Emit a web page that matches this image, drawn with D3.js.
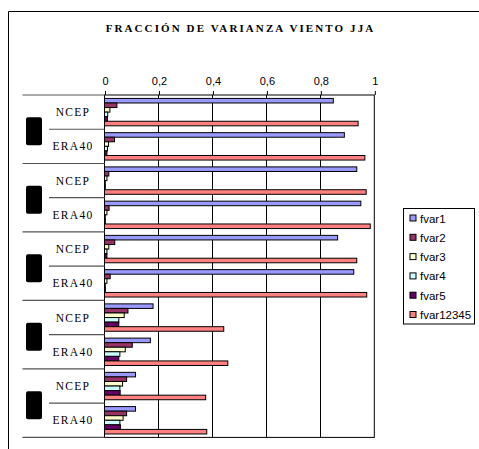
<!DOCTYPE html>
<html>
<head>
<meta charset="utf-8">
<script src="https://cdn.jsdelivr.net/npm/d3@7"></script>
<style>
  html, body { margin: 0; padding: 0; background: #fff; }
  svg { display: block; }
</style>
</head>
<body>
<div id="chart"></div>
<script>
// Fraction of wind variance (JJA) per reanalysis, five groups of NCEP / ERA40 rows
const categories = ["NCEP", "ERA40", "NCEP", "ERA40", "NCEP", "ERA40", "NCEP", "ERA40", "NCEP", "ERA40"];
const seriesNames = ["fvar1", "fvar2", "fvar3", "fvar4", "fvar5", "fvar12345"];
const seriesColors = ["#9999FF", "#993366", "#FFFFCC", "#CCFFFF", "#660066", "#FF8080"];

const fvar1     = [0.848, 0.889, 0.935, 0.950, 0.864, 0.924, 0.180, 0.170, 0.115, 0.115];
const fvar2     = [0.046, 0.037, 0.016, 0.017, 0.038, 0.021, 0.087, 0.103, 0.082, 0.082];
const fvar3     = [0.020, 0.015, 0.009, 0.009, 0.016, 0.009, 0.073, 0.077, 0.067, 0.069];
const fvar4     = [0.012, 0.011, 0.003, 0.003, 0.009, 0.003, 0.053, 0.057, 0.057, 0.057];
const fvar5     = [0.011, 0.009, 0.003, 0.003, 0.009, 0.003, 0.053, 0.053, 0.058, 0.059];
const fvar12345 = [0.940, 0.965, 0.970, 0.985, 0.935, 0.972, 0.442, 0.457, 0.375, 0.379];

const xTicks = [0, 0.2, 0.4, 0.6, 0.8, 1];
const tickLabels = ["0", "0,2", "0,4", "0,6", "0,8", "1"];
const title = "FRACCIÓN DE VARIANZA VIENTO JJA";

const seriesValues = [fvar1, fvar2, fvar3, fvar4, fvar5, fvar12345];

const W = 479, H = 449;
const plot = { left: 104.5, right: 374.3, top: 95, bottom: 437.4 };

const svg = d3.select("#chart").append("svg")
  .attr("width", W).attr("height", H);

svg.append("rect").attr("width", W).attr("height", H).attr("fill", "#fff");

// chart frame
svg.append("path")
  .attr("d", `M8.5,${H + 2} V11.5 H${W + 2}`)
  .attr("fill", "none").attr("stroke", "#000").attr("stroke-width", 1);

// title
svg.append("text")
  .attr("x", 240.5).attr("y", 32)
  .attr("text-anchor", "middle")
  .attr("font-family", "'Liberation Serif', 'Times New Roman', serif")
  .attr("font-weight", "bold")
  .attr("font-size", 11)
  .attr("letter-spacing", 2.1)
  .text(title);

const x = d3.scaleLinear().domain([0, 1]).range([plot.left, plot.right]);
const y = d3.scaleBand()
  .domain(d3.range(categories.length))
  .range([plot.top, plot.bottom])
  .paddingInner(0.2).paddingOuter(0.1);
const ys = d3.scaleBand().domain(seriesNames).range([0, y.bandwidth()]);
const step = y.step();

// plot area background
svg.append("rect")
  .attr("x", plot.left).attr("y", plot.top)
  .attr("width", plot.right - plot.left).attr("height", plot.bottom - plot.top)
  .attr("fill", "#fff");

// vertical gridlines
svg.append("g").selectAll("line")
  .data(xTicks.slice(1, -1))
  .join("line")
  .attr("x1", d => Math.round(x(d)) + 0.5).attr("x2", d => Math.round(x(d)) + 0.5)
  .attr("y1", plot.top).attr("y2", plot.bottom)
  .attr("stroke", "#000").attr("stroke-width", 1);

// top value axis
const xAxis = d3.axisTop(x)
  .tickValues(xTicks)
  .tickFormat((d, i) => tickLabels[i])
  .tickSize(4)
  .tickPadding(6);
const gx = svg.append("g")
  .attr("transform", `translate(0.5,${plot.top})`)
  .call(xAxis);
gx.select(".domain").remove();
gx.selectAll(".tick line").attr("stroke", "#000");
gx.selectAll(".tick text")
  .attr("font-family", "'Liberation Sans', Arial, sans-serif")
  .attr("font-size", 11)
  .attr("fill", "#000");

// bars
const rows = categories.map((c, i) => ({ i, c }));
const gBars = svg.append("g");
seriesNames.forEach((s, si) => {
  gBars.append("g").selectAll("rect")
    .data(rows)
    .join("rect")
    .attr("x", x(0))
    .attr("y", d => y(d.i) + ys(s))
    .attr("width", d => x(seriesValues[si][d.i]) - x(0))
    .attr("height", ys.bandwidth())
    .attr("fill", seriesColors[si])
    .attr("stroke", "#000")
    .attr("stroke-width", 1);
});

// plot area border
svg.append("rect")
  .attr("x", plot.left).attr("y", plot.top)
  .attr("width", plot.right - plot.left).attr("height", plot.bottom - plot.top)
  .attr("fill", "none").attr("stroke", "#000").attr("stroke-width", 1);

// category label lines on the left: long ones between groups, short within
const nGroups = categories.length / 2;
const boundaries = d3.range(categories.length + 1).map(k => ({
  k, yy: plot.top + k * step
}));
svg.append("g").selectAll("line")
  .data(boundaries)
  .join("line")
  .attr("x1", d => d.k % 2 === 0 ? 22.5 : 49)
  .attr("x2", plot.left)
  .attr("y1", d => d.yy).attr("y2", d => d.yy)
  .attr("stroke", "#555").attr("stroke-width", 1.2);

// category labels
svg.append("g").selectAll("text")
  .data(rows)
  .join("text")
  .attr("x", 73)
  .attr("y", d => plot.top + (d.i + 0.5) * step + 4)
  .attr("text-anchor", "middle")
  .attr("font-family", "'Liberation Serif', 'Times New Roman', serif")
  .attr("font-size", 11.5)
  .attr("letter-spacing", 1.3)
  .text(d => d.c);

// group markers
svg.append("g").selectAll("rect")
  .data(d3.range(nGroups))
  .join("rect")
  .attr("x", 26).attr("width", 16)
  .attr("y", g => plot.top + (g + 1) * 2 * step - step - 12)
  .attr("height", 28)
  .attr("rx", 2)
  .attr("fill", "#000");

// legend
const lg = svg.append("g").attr("transform", "translate(403.5,208.5)");
lg.append("rect")
  .attr("width", 71).attr("height", 115.5)
  .attr("fill", "#fff").attr("stroke", "#000").attr("stroke-width", 1);
const li = lg.selectAll("g.item")
  .data(seriesNames)
  .join("g").attr("class", "item")
  .attr("transform", (d, i) => `translate(0,${10 + i * 19.3})`);
li.append("rect")
  .attr("x", 6.5).attr("y", -3.5)
  .attr("width", 6).attr("height", 6)
  .attr("fill", (d, i) => seriesColors[i])
  .attr("stroke", "#000").attr("stroke-width", 1);
li.append("text")
  .attr("x", 16.5).attr("y", 4)
  .attr("font-family", "'Liberation Sans', Arial, sans-serif")
  .attr("font-size", 11.5)
  .text(d => d);
</script>
</body>
</html>
